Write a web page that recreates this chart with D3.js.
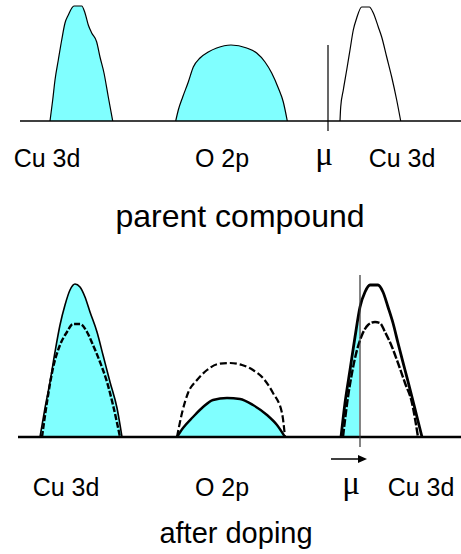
<!DOCTYPE html>
<html>
<head>
<meta charset="utf-8">
<script src="https://cdn.jsdelivr.net/npm/d3@7"></script>
<style>
  html, body { margin: 0; padding: 0; background: #fff; }
  svg { display: block; }
  text { font-family: Arial, "Liberation Sans", sans-serif; fill: #000; }
  text.mu { font-family: "Liberation Serif", "Times New Roman", serif; }
</style>
</head>
<body>
<svg id="chart"></svg>
<script>
"use strict";

// energy axis (arbitrary units), density of states heights (arbitrary units)
// parent compound
var cuLowE   = [50, 52.7, 55, 58.3, 61.7, 65, 68.3, 74, 81.7, 85, 88.3, 91.7, 96.7, 100, 104, 108.3, 112.7];
var cuLowD   = [0, 21, 41, 61, 81, 98, 106, 115, 115, 108, 96, 88, 79, 64, 48, 24, 0];
var o2pE     = [175.7, 178.3, 182.7, 188.3, 193.3, 200, 208.3, 216.7, 231, 246.7, 256.7, 265, 271.7, 278.3, 283.3, 287.3];
var o2pD     = [0, 11, 24, 39, 54, 63, 69, 73, 76, 73, 68, 59, 48, 33, 19, 0];
var cuUpE    = [340, 340.7, 343.3, 346.7, 350, 353.3, 356.7, 361.7, 369.3, 373.3, 378.3, 381.7, 386.7, 391.7, 396.7, 400.7];
var cuUpD    = [0, 14, 31, 51, 71, 91, 103, 114, 114, 108, 94, 84, 64, 44, 21, 0];
var muParent = 328;

// after doping: solid = doped, dashed = parent
var dCuLowE  = [40, 45, 50, 55, 60, 65, 70, 75, 80, 85, 90, 97, 103, 110, 117, 122];
var dCuLowD  = [0, 29, 55, 85, 112, 132, 147, 153, 150, 140, 125, 105, 82, 55, 29, 0];
var pCuLowE  = [42, 47, 53, 60, 67, 73, 80, 87, 93, 100, 107, 113, 120];
var pCuLowD  = [0, 35, 69, 92, 105, 113, 113, 105, 92, 75, 55, 32, 0];
var dO2pE    = [177, 183, 193, 203, 213, 227, 240, 253, 267, 277, 285];
var dO2pD    = [0, 9, 20, 30, 37, 39, 38, 32, 22, 12, 0];
var pO2pE    = [177, 182, 188, 197, 207, 218, 230, 242, 253, 263, 273, 282, 285];
var pO2pD    = [0, 24, 44, 57, 67, 73, 74, 72, 67, 59, 44, 24, 0];
var dCuUpE   = [341, 345, 350, 355, 360, 365, 370, 378, 383, 388, 393, 398, 405, 412, 417, 422];
var dCuUpD   = [0, 34, 67, 100, 130, 145, 152, 152, 145, 130, 114, 94, 67, 40, 20, 0];
var pCuUpE   = [343, 348, 352, 357, 362, 368, 375, 380, 385, 392, 398, 405, 412, 418];
var pCuUpD   = [0, 40, 64, 87, 102, 112, 115, 114, 105, 90, 74, 54, 34, 0];
var muDoped  = 360;

var labelNames = ["Cu 3d", "O 2p", "\u03bc", "Cu 3d"];
var labelTopE  = [47, 222, 324, 402];
var labelBotE  = [66, 222, 351, 421];

var Draw = (function() {
  var width = 461, height = 554;
  var cyan = "#80ffff";
  var ink = "#000";

  var svg = d3.select("#chart")
      .attr("width", width)
      .attr("height", height)
      .attr("viewBox", [0, 0, width, height]);

  var x = d3.scaleLinear().domain([0, 461]).range([0, 461]);
  var yTop = d3.scaleLinear().domain([0, 120]).range([121, 1]);
  var yBot = d3.scaleLinear().domain([0, 170]).range([437, 267]);

  function pts(E, D) { return E.map((e, i) => [e, D[i]]); }

  function band(y, E, D, opts) {
    var data = pts(E, D);
    if (opts.fill) {
      var area = d3.area()
          .x(d => x(d[0]))
          .y0(y(0))
          .y1(d => y(d[1]))
          .curve(d3.curveMonotoneX);
      var fd = opts.clipTo != null ? clipData(data, opts.clipTo) : data;
      svg.append("path")
          .attr("d", area(fd))
          .attr("fill", opts.fill)
          .attr("stroke", "none");
    }
    var line = d3.line()
        .x(d => x(d[0]))
        .y(d => y(d[1]))
        .curve(d3.curveMonotoneX);
    svg.append("path")
        .attr("d", line(data))
        .attr("fill", "none")
        .attr("stroke", ink)
        .attr("stroke-width", opts.width || 1)
        .attr("stroke-dasharray", opts.dash || null)
        .attr("stroke-linejoin", "round");
  }

  // keep the points left of the chemical potential, closing at it
  function clipData(data, e) {
    var out = [];
    for (var i = 0; i < data.length; i++) {
      if (data[i][0] <= e) out.push(data[i]);
      else {
        var a = data[i - 1], b = data[i];
        var t = (e - a[0]) / (b[0] - a[0]);
        out.push([e, a[1] + t * (b[1] - a[1]) - 8]);
        break;
      }
    }
    return out;
  }

  function labels(E, yPos) {
    svg.append("g").selectAll("text")
      .data(labelNames)
      .join("text")
        .attr("class", d => d === "\u03bc" ? "mu" : null)
        .attr("x", (d, i) => x(E[i]))
        .attr("y", d => d === "\u03bc" ? yPos - 2 : yPos)
        .attr("text-anchor", "middle")
        .attr("font-size", d => d === "\u03bc" ? 33 : 25)
        .text(d => d);
  }

  // ---- parent compound ----
  band(yTop, cuLowE, cuLowD, {fill: cyan, width: 1.2});
  band(yTop, o2pE, o2pD, {fill: cyan, width: 1.2});
  band(yTop, cuUpE, cuUpD, {width: 1.2});

  svg.append("line")
      .attr("x1", x(20)).attr("x2", x(461))
      .attr("y1", yTop(0)).attr("y2", yTop(0))
      .attr("stroke", ink).attr("stroke-width", 1.3);

  svg.append("line")
      .attr("x1", x(muParent)).attr("x2", x(muParent))
      .attr("y1", yTop(76)).attr("y2", yTop(-10))
      .attr("stroke", ink).attr("stroke-width", 1.2);

  labels(labelTopE, 167);

  svg.append("text")
      .attr("x", 240).attr("y", 227)
      .attr("text-anchor", "middle")
      .attr("font-size", 32)
      .text("parent compound");

  // ---- after doping ----
  band(yBot, dCuLowE, dCuLowD, {fill: cyan, width: 1.6});
  band(yBot, pCuLowE, pCuLowD, {width: 2.4, dash: "6,2"});
  band(yBot, dO2pE, dO2pD, {fill: cyan, width: 2.4});
  band(yBot, pO2pE, pO2pD, {width: 2.2, dash: "7,3"});
  band(yBot, dCuUpE, dCuUpD, {fill: cyan, clipTo: muDoped - 1, width: 2.8});
  band(yBot, pCuUpE, pCuUpD, {width: 2.4, dash: "8,2"});

  svg.append("line")
      .attr("x1", x(18)).attr("x2", x(461))
      .attr("y1", yBot(0)).attr("y2", yBot(0))
      .attr("stroke", ink).attr("stroke-width", 2.6);

  svg.append("line")
      .attr("x1", x(muDoped)).attr("x2", x(muDoped))
      .attr("y1", yBot(162)).attr("y2", yBot(-10))
      .attr("stroke", "#333").attr("stroke-width", 1.2);

  // arrow: shift of the chemical potential
  var ay = yBot(-22);
  svg.append("line")
      .attr("x1", x(331)).attr("x2", x(360))
      .attr("y1", ay).attr("y2", ay)
      .attr("stroke", ink).attr("stroke-width", 1.5);
  svg.append("path")
      .attr("d", d3.line()([[x(358), ay - 4], [x(367), ay], [x(358), ay + 4]]))
      .attr("fill", ink);

  labels(labelBotE, 496);

  svg.append("text")
      .attr("x", 236).attr("y", 543)
      .attr("text-anchor", "middle")
      .attr("font-size", 29)
      .text("after doping");
});

Draw();
</script>
</body>
</html>
